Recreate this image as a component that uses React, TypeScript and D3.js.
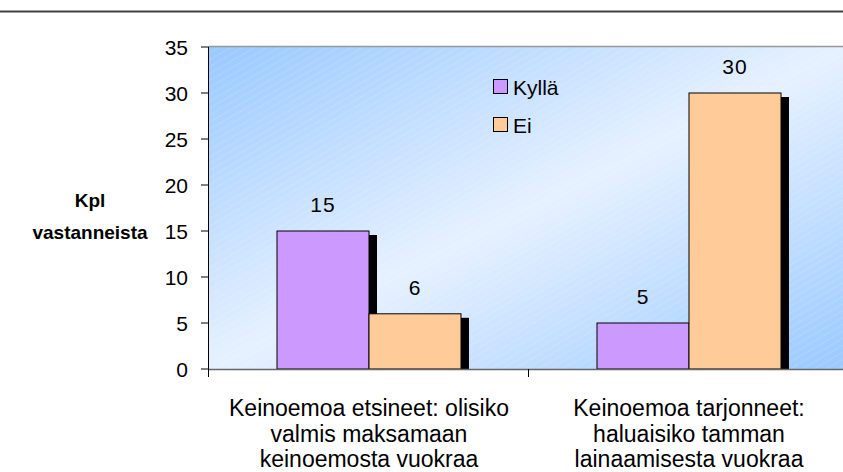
import React from "react";
import * as d3 from "d3";

const categories = [
  ["Keinoemoa etsineet: olisiko", "valmis maksamaan", "keinoemosta vuokraa"],
  ["Keinoemoa tarjonneet:", "haluaisiko tamman", "lainaamisesta vuokraa"],
];
const seriesNames = ["Kyllä", "Ei"];
const kylla = [15, 5];
const ei = [6, 30];
const yTicks = [0, 5, 10, 15, 20, 25, 30, 35];
const colors = ["#CC99FF", "#FFCC99"];

export default function App() {
  const W = 843, H = 472;
  const left = 209, right = 849, top = 47, bottom = 369;
  const y = d3.scaleLinear().domain([0, 35]).range([bottom, top]);
  const x0 = d3.scaleBand<number>().domain([0, 1]).range([left, right]);
  const x1 = d3.scaleBand<number>().domain([0, 1]).range([0, x0.bandwidth()]).paddingOuter(0.7391).paddingInner(0);
  const series = [kylla, ei];
  const font = "Arial, 'Liberation Sans', sans-serif";
  return (
    <svg width={W} height={H} style={{ position: "absolute", left: 0, top: 0, fontFamily: font }}>
      <defs>
        <linearGradient id="bg" x1="0" y1="0" x2="1" y2="1">
          <stop offset="0" stopColor="#99C9FF" />
          <stop offset="0.5" stopColor="#E6F1FF" />
          <stop offset="1" stopColor="#99C9FF" />
        </linearGradient>
        <pattern id="hatch" width="6" height="6" patternUnits="userSpaceOnUse" patternTransform="rotate(-30)">
          <line x1="0" y1="0" x2="6" y2="0" stroke="#ffffff" strokeOpacity="0.25" strokeWidth="1" />
        </pattern>
      </defs>
      <rect x={0} y={0} width={W} height={H} fill="#fff" />
      <line x1={0} x2={W} y1={11.5} y2={11.5} stroke="#404040" strokeWidth={2} />
      <rect x={left} y={top} width={right - left} height={bottom - top} fill="url(#bg)" />
      <rect x={left} y={top} width={right - left} height={bottom - top} fill="url(#hatch)" />
      <line x1={left} x2={right} y1={top - 0.5} y2={top - 0.5} stroke="#999" strokeWidth={1.5} />
      {series.map((vals, si) =>
        vals.map((v, ci) => {
          const bx = x0(ci)! + x1(si)!;
          return (
            <rect key={`s${si}-${ci}`} x={bx + 8} y={y(v) + 4} width={x1.bandwidth()} height={bottom - y(v) - 4} fill="#000" />
          );
        })
      )}
      {series.map((vals, si) =>
        vals.map((v, ci) => {
          const bx = x0(ci)! + x1(si)!;
          return (
            <g key={`b${si}-${ci}`}>
              <rect x={bx} y={y(v)} width={x1.bandwidth()} height={bottom - y(v)} fill={colors[si]} stroke="#000" strokeWidth={1} />
              <text x={bx + x1.bandwidth() / 2} y={y(v) - 19} textAnchor="middle" fontSize={21} letterSpacing={1} fill="#000">{v}</text>
            </g>
          );
        })
      )}
      <line x1={left} x2={right} y1={bottom + 0.5} y2={bottom + 0.5} stroke="#666" strokeWidth={1.5} />
      <line x1={left - 0.5} x2={left - 0.5} y1={top} y2={bottom + 8} stroke="#000" strokeWidth={1} />
      {yTicks.map((t) => (
        <g key={t}>
          <line x1={left - 8} x2={left} y1={y(t)} y2={y(t)} stroke="#000" />
          <text x={188} y={y(t)} dy="0.36em" textAnchor="end" fontSize={21}>{t}</text>
        </g>
      ))}
      {[0, 1, 2].map((i) => {
        const xx = left + i * x0.bandwidth();
        return <line key={i} x1={xx - 0.5} x2={xx - 0.5} y1={bottom} y2={bottom + 8} stroke="#000" />;
      })}
      {categories.map((lines, ci) => (
        <text key={ci} textAnchor="middle" fontSize={23} fill="#000">
          {lines.map((l, li) => (
            <tspan key={li} x={x0(ci)! + x0.bandwidth() / 2} y={416 + li * 25.5}>{l}</tspan>
          ))}
        </text>
      ))}
      <text x={90} y={207} textAnchor="middle" fontSize={19} fontWeight="bold">Kpl</text>
      <text x={90} y={239} textAnchor="middle" fontSize={19} fontWeight="bold">vastanneista</text>
      {seriesNames.map((n, i) => (
        <g key={n}>
          <rect x={493.5} y={79.5 + i * 38} width={14} height={14} fill={colors[i]} stroke="#000" strokeWidth={1} />
          <text x={513} y={87 + i * 38} dy="0.36em" fontSize={21}>{n}</text>
        </g>
      ))}
    </svg>
  );
}
